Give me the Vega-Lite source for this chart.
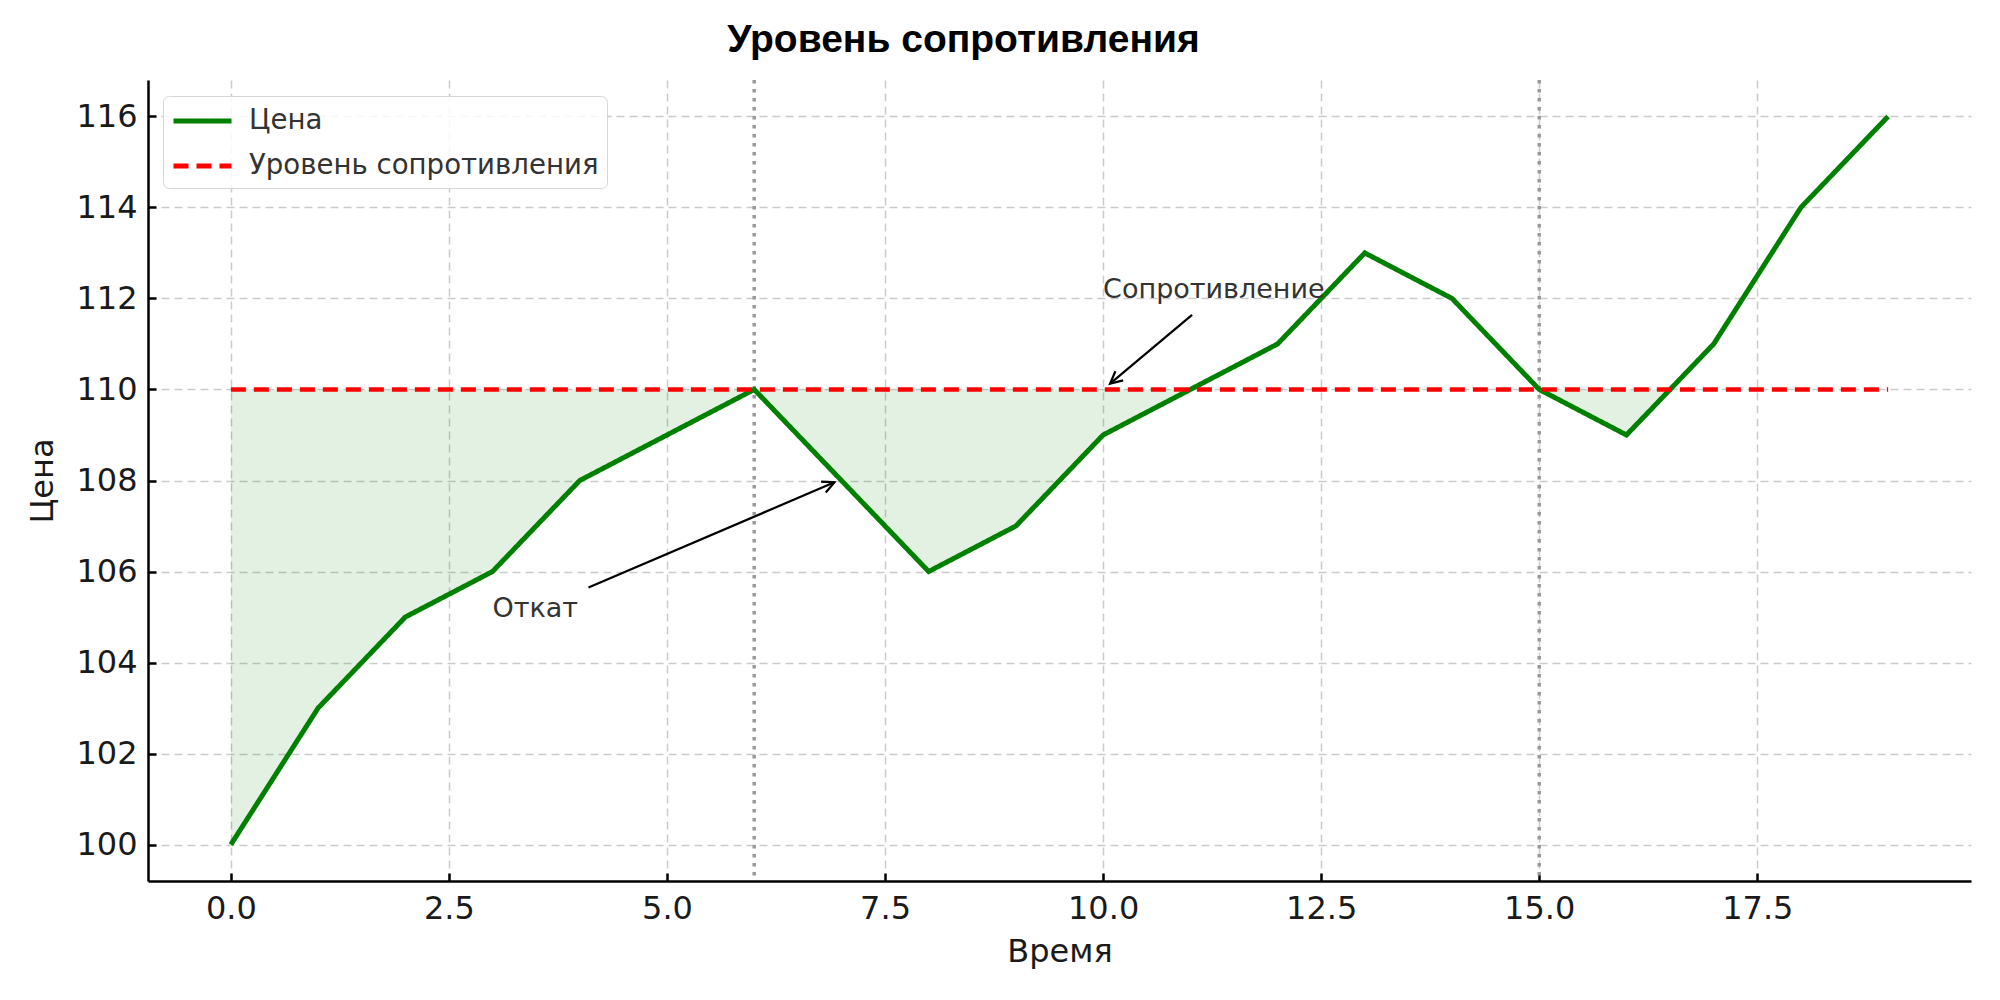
{
  "$schema": "https://vega.github.io/schema/vega-lite/v6.json",
  "autosize": {"type": "none"},
  "padding": {"left": 148, "top": 80, "right": 29, "bottom": 119},
  "width": 1823,
  "height": 801,
  "background": "white",
  "title": {
    "text": "Уровень сопротивления",
    "font": "Liberation Sans",
    "fontSize": 39,
    "fontWeight": "bold",
    "color": "#000000",
    "anchor": "middle",
    "baseline": "alphabetic",
    "dx": -96,
    "offset": -13
  },
  "config": {
    "view": {"stroke": null},
    "axis": {
      "labelFont": "DejaVu Sans",
      "labelFontSize": 32,
      "labelColor": "#1a1a1a",
      "titleFont": "DejaVu Sans",
      "titleFontSize": 32,
      "titleFontWeight": "normal",
      "titleColor": "#1a1a1a",
      "domainColor": "#000000",
      "domainWidth": 2.5,
      "tickColor": "#000000",
      "tickWidth": 2.5,
      "tickSize": -8,
      "gridColor": "#cbcbcb",
      "gridDash": [8, 5],
      "gridWidth": 1.5
    },
    "legend": {
      "labelFont": "DejaVu Sans",
      "labelFontSize": 27.6,
      "labelColor": "#333333",
      "labelLimit": 500
    }
  },
  "datasets": {
    "price": [
      {"t": 0, "v": 100, "s": "Цена"},
      {"t": 1, "v": 103, "s": "Цена"},
      {"t": 2, "v": 105, "s": "Цена"},
      {"t": 3, "v": 106, "s": "Цена"},
      {"t": 4, "v": 108, "s": "Цена"},
      {"t": 5, "v": 109, "s": "Цена"},
      {"t": 6, "v": 110, "s": "Цена"},
      {"t": 7, "v": 108, "s": "Цена"},
      {"t": 8, "v": 106, "s": "Цена"},
      {"t": 9, "v": 107, "s": "Цена"},
      {"t": 10, "v": 109, "s": "Цена"},
      {"t": 11, "v": 110, "s": "Цена"},
      {"t": 12, "v": 111, "s": "Цена"},
      {"t": 13, "v": 113, "s": "Цена"},
      {"t": 14, "v": 112, "s": "Цена"},
      {"t": 15, "v": 110, "s": "Цена"},
      {"t": 16, "v": 109, "s": "Цена"},
      {"t": 17, "v": 111, "s": "Цена"},
      {"t": 18, "v": 114, "s": "Цена"},
      {"t": 19, "v": 116, "s": "Цена"}
    ],
    "below": [
      {"t": 0, "lo": 100},
      {"t": 1, "lo": 103},
      {"t": 2, "lo": 105},
      {"t": 3, "lo": 106},
      {"t": 4, "lo": 108},
      {"t": 5, "lo": 109},
      {"t": 6, "lo": 110},
      {"t": 7, "lo": 108},
      {"t": 8, "lo": 106},
      {"t": 9, "lo": 107},
      {"t": 10, "lo": 109},
      {"t": 11, "lo": 110},
      {"t": 15, "lo": 110},
      {"t": 16, "lo": 109},
      {"t": 16.5, "lo": 110}
    ],
    "level": [
      {"t": 0, "v": 110, "s": "Уровень сопротивления"},
      {"t": 19, "v": 110, "s": "Уровень сопротивления"}
    ]
  },
  "encoding": {
    "x": {
      "field": "t",
      "type": "quantitative",
      "scale": {"domain": [-0.95, 19.95], "nice": false, "zero": false},
      "axis": {
        "title": "Время",
        "values": [0, 2.5, 5, 7.5, 10, 12.5, 15, 17.5],
        "format": ".1f",
        "labelPadding": 20,
        "titlePadding": 12
      }
    }
  },
  "layer": [
    {
      "data": {"name": "below"},
      "mark": {"type": "area", "color": "green", "opacity": 0.11},
      "encoding": {
        "y": {
          "field": "lo",
          "type": "quantitative",
          "scale": {"domain": [99.2, 116.8], "nice": false, "zero": false},
          "axis": {
            "title": "Цена",
            "values": [100, 102, 104, 106, 108, 110, 112, 114, 116],
            "labelPadding": 19,
            "titlePadding": 16
          }
        },
        "y2": {"datum": 110}
      }
    },
    {
      "data": {"values": [{"t": 6}, {"t": 15}]},
      "mark": {"type": "rule", "color": "#9a9a9a", "strokeWidth": 3.5, "strokeDash": [3.5, 5.5]},
      "encoding": {}
    },
    {
      "data": {"name": "price"},
      "mark": {"type": "line", "strokeWidth": 5},
      "encoding": {
        "y": {"field": "v", "type": "quantitative"},
        "color": {
          "field": "s",
          "type": "nominal",
          "scale": {"domain": ["Цена", "Уровень сопротивления"], "range": ["#008000", "#ff0000"]},
          "legend": {
            "title": null,
            "orient": "none",
            "legendX": 15,
            "legendY": 16,
            "symbolType": "M-1,0L3,0",
            "symbolSize": 841,
            "symbolStrokeWidth": 5,
            "labelOffset": 44,
            "padding": 8,
            "rowPadding": 14,
            "fillColor": "rgba(255,255,255,0.85)",
            "strokeColor": "#d6d6d6",
            "cornerRadius": 6
          }
        },
        "strokeDash": {
          "field": "s",
          "type": "nominal",
          "scale": {"domain": ["Цена", "Уровень сопротивления"], "range": [[1, 0], [15, 8]]},
          "legend": {"title": null}
        }
      }
    },
    {
      "data": {"name": "level"},
      "mark": {"type": "line", "strokeWidth": 4.5},
      "encoding": {
        "y": {"field": "v", "type": "quantitative"},
        "color": {"field": "s", "type": "nominal"},
        "strokeDash": {"field": "s", "type": "nominal"}
      }
    },
    {
      "data": {
        "values": [
          {"t": 3, "v": 105, "label": "Откат"},
          {"t": 10, "v": 112, "label": "Сопротивление"}
        ]
      },
      "mark": {
        "type": "text",
        "align": "left",
        "baseline": "alphabetic",
        "font": "DejaVu Sans",
        "fontSize": 27,
        "color": "#333333"
      },
      "encoding": {
        "y": {"field": "v", "type": "quantitative"},
        "text": {"field": "label"}
      }
    },
    {
      "data": {
        "values": [
          {"t": 4.1, "v": 105.65, "t2": 6.92, "v2": 107.96},
          {"t": 11.02, "v": 111.64, "t2": 10.08, "v2": 110.13}
        ]
      },
      "mark": {"type": "rule", "color": "#000000", "strokeWidth": 2.2},
      "encoding": {
        "y": {"field": "v", "type": "quantitative"},
        "x2": {"field": "t2"},
        "y2": {"field": "v2"}
      }
    },
    {
      "data": {"values": [{"t": 6.92, "v": 107.96}]},
      "mark": {
        "type": "point",
        "shape": "M-1,-0.5L0,0L-1,0.5",
        "size": 576,
        "filled": false,
        "opacity": 1,
        "stroke": "#000000",
        "strokeWidth": 2.2,
        "angle": -23.3
      },
      "encoding": {"y": {"field": "v", "type": "quantitative"}}
    },
    {
      "data": {"values": [{"t": 10.08, "v": 110.13}]},
      "mark": {
        "type": "point",
        "shape": "M-1,-0.5L0,0L-1,0.5",
        "size": 576,
        "filled": false,
        "opacity": 1,
        "stroke": "#000000",
        "strokeWidth": 2.2,
        "angle": 139.9
      },
      "encoding": {"y": {"field": "v", "type": "quantitative"}}
    }
  ]
}
